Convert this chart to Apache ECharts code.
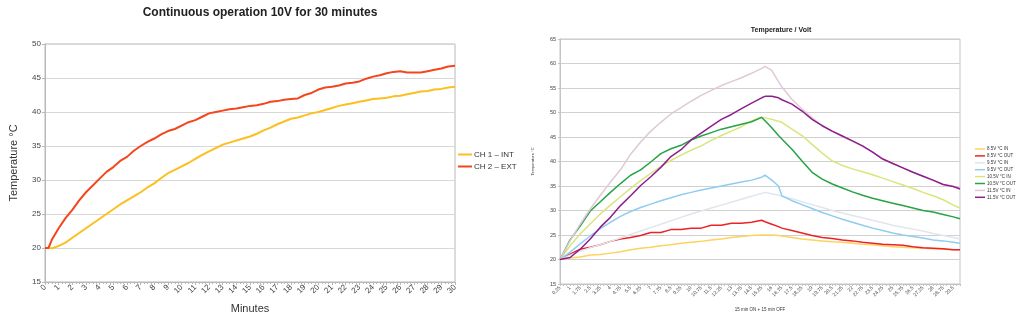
<!DOCTYPE html>
<html><head><meta charset="utf-8">
<script src="https://cdn.jsdelivr.net/npm/echarts@6/dist/echarts.min.js"></script>
<style>html,body{margin:0;padding:0;background:#fff}#c{width:1024px;height:321px}</style>
</head><body><div id="c"></div>
<script>
// ---- Left chart data ----
const leftMinutes = [0,0.25,0.5,1,1.5,2,2.5,3,3.5,4,4.5,5,5.5,6,6.5,7,7.5,8,8.5,9,9.5,10,10.5,11,11.5,12,12.5,13,13.5,14,14.5,15,15.5,16,16.5,17,17.5,18,18.5,19,19.5,20,20.5,21,21.5,22,22.5,23,23.5,24,24.5,25,25.5,26,26.5,27,27.5,28,28.5,29,29.5,30];
const ch1Int = [20,20,19.95,20.3,20.8,21.5,22.2,22.9,23.6,24.3,25.0,25.7,26.4,27.0,27.6,28.2,28.9,29.5,30.3,31.0,31.5,32.0,32.5,33.1,33.7,34.2,34.7,35.2,35.5,35.8,36.1,36.4,36.8,37.3,37.7,38.2,38.6,39.0,39.2,39.5,39.8,40.0,40.3,40.6,40.9,41.1,41.3,41.5,41.7,41.9,42.0,42.1,42.3,42.4,42.6,42.8,43.0,43.1,43.3,43.4,43.6,43.7];
const ch2Ext = [20,20.0,21.2,22.9,24.4,25.6,27.0,28.2,29.2,30.2,31.2,31.9,32.8,33.4,34.3,35.0,35.6,36.1,36.7,37.2,37.5,38.0,38.5,38.8,39.3,39.8,40.0,40.2,40.4,40.5,40.7,40.9,41.0,41.2,41.5,41.6,41.8,41.9,42.0,42.5,42.8,43.3,43.6,43.7,43.9,44.2,44.3,44.5,44.9,45.2,45.4,45.7,45.9,46.0,45.8,45.8,45.8,46.0,46.2,46.4,46.7,46.8];
const leftNames = ['CH 1 – INT','CH 2 – EXT'];

// ---- Right chart data ----
const rightMinutes = [0.25,1,1.75,2.5,3.25,4,4.75,5.5,6.25,7,7.75,8.5,9.25,10,10.75,11.5,12.25,13,13.75,14.5,15.25,15.5,16,16.5,16.75,17.5,18.25,19,19.75,20.5,21.25,22,22.75,23.5,24.25,25,25.75,26.5,27.25,28,28.75,29.5,30];
const v85In  = [20,20.3,20.5,20.9,21.0,21.3,21.6,22.0,22.3,22.5,22.8,23.0,23.3,23.5,23.7,24.0,24.2,24.5,24.7,24.9,25.0,25.0,25.0,24.9,24.8,24.5,24.2,24.0,23.8,23.6,23.5,23.3,23.1,23.0,22.8,22.6,22.5,22.4,22.3,22.2,22.1,22.0,22.0];
const v85Out = [20,21.1,22.1,22.5,23.0,23.7,24.2,24.5,24.9,25.5,25.5,26.1,26.1,26.4,26.4,27.0,27.0,27.4,27.4,27.6,28.0,27.7,27.2,26.7,26.4,25.9,25.4,24.9,24.5,24.3,24.0,23.8,23.5,23.3,23.1,23.0,22.9,22.6,22.4,22.3,22.2,22.0,22.0];
const v95In  = [20,20.9,21.7,22.4,23.0,23.7,24.4,25.1,25.8,26.5,27.2,27.9,28.6,29.3,29.9,30.5,31.1,31.7,32.3,32.9,33.5,33.7,33.4,33.1,32.9,32.4,31.8,31.2,30.6,30.0,29.5,29.0,28.5,28.0,27.5,27.0,26.6,26.2,25.8,25.3,24.9,24.5,24.2];
const v95Out = [20,21.5,23.2,24.8,26.3,27.6,28.8,29.8,30.6,31.3,32.0,32.6,33.2,33.7,34.2,34.6,35.0,35.4,35.8,36.2,36.8,37.2,36.2,35.0,33.0,32.0,31.2,30.4,29.6,28.9,28.2,27.6,27.0,26.4,25.9,25.4,25.0,24.7,24.4,24.0,23.8,23.5,23.3];
const v105In = [20,22.8,25.2,27.3,29.3,31.1,32.8,34.5,36.1,37.6,39.0,40.2,41.3,42.3,43.2,44.3,45.3,46.2,47.1,48.3,49.1,48.9,48.6,48.2,48.0,46.6,45.3,43.5,41.7,40.1,39.2,38.5,37.9,37.3,36.6,35.9,35.2,34.5,33.7,33.0,32.2,31.1,30.5];
const v105Out= [20,24.0,26.8,29.9,31.8,33.7,35.5,37.2,38.3,39.9,41.6,42.6,43.3,44.4,45.2,45.9,46.6,47.1,47.6,48.1,49.0,48.3,46.9,45.3,44.6,42.5,40.1,37.8,36.4,35.4,34.6,33.8,33.1,32.5,32.0,31.5,31.0,30.5,30.0,29.7,29.2,28.7,28.3];
const v115In = [20,23.8,27.2,30.3,33.1,35.8,38.3,41.5,44.0,46.2,48.0,49.7,51.0,52.3,53.5,54.5,55.5,56.3,57.1,58.0,59.0,59.4,58.6,56.3,55.2,52.7,50.7,48.9,47.3,46.1,45.1,44.1,43.1,41.9,40.6,39.6,38.7,37.8,37.0,36.1,35.3,34.9,34.6];
const v115Out= [20,20.4,22.1,24.2,26.6,28.6,31.0,33.0,35.1,36.9,38.8,41.0,42.4,44.4,45.8,47.2,48.6,49.6,50.8,51.9,53.0,53.3,53.3,53.0,52.6,51.7,50.3,48.6,47.3,46.2,45.2,44.2,43.2,41.9,40.5,39.6,38.7,37.8,37.0,36.2,35.3,34.9,34.4];
const rightNames = ['8.5V °C IN','8.5V °C OUT','9.5V °C IN','9.5V °C OUT','10.5V °C IN','10.5V °C OUT','11.5V °C IN','11.5V °C OUT'];
const rightValues = [v85In, v85Out, v95In, v95Out, v105In, v105Out, v115In, v115Out];
const rightColors = ['#fbd35e','#ec2227','#dfe6ee','#8fcdf0','#d9e57a','#27a345','#dfc9d5','#8c1f8d'];

const pair = (xs, ys) => xs.map((x, i) => [x, ys[i]]);
const FONT = 'Liberation Sans';

const chart = echarts.init(document.getElementById('c'), null, {renderer: 'canvas'});
const series = [
  {name: leftNames[0], type: 'line', xAxisIndex: 0, yAxisIndex: 0, data: pair(leftMinutes, ch1Int), symbol: 'none', lineStyle: {width: 2, color: '#fcbf1e'}, itemStyle: {color: '#fcbf1e'}},
  {name: leftNames[1], type: 'line', xAxisIndex: 0, yAxisIndex: 0, data: pair(leftMinutes, ch2Ext), symbol: 'none', lineStyle: {width: 2, color: '#f4461c'}, itemStyle: {color: '#f4461c'}}
];
rightNames.forEach((n, i) => series.push({
  name: n, type: 'line', xAxisIndex: 1, yAxisIndex: 1, data: pair(rightMinutes, rightValues[i]),
  symbol: 'none', lineStyle: {width: 1.5, color: rightColors[i]}, itemStyle: {color: rightColors[i]}
}));

chart.setOption({
  animation: false,
  backgroundColor: '#fff',
  textStyle: {fontFamily: FONT},
  title: [
    {text: 'Continuous operation 10V for 30 minutes', left: 260, top: 7, padding: 0, textAlign: 'center',
     textStyle: {fontFamily: FONT, fontWeight: 'bold', fontSize: 12, color: '#222'}},
    {text: 'Temperature / Volt', left: 781, top: 27, padding: 0, textAlign: 'center',
     textStyle: {fontFamily: FONT, fontWeight: 'bold', fontSize: 7, color: '#222'}}
  ],
  legend: [
    {data: leftNames, orient: 'vertical', left: 458, top: 150, padding: 0, icon: 'rect', itemWidth: 14, itemHeight: 2, itemGap: 3,
     textStyle: {fontFamily: FONT, fontSize: 8, lineHeight: 9, color: '#333', padding: [0,0,0,-3]}},
    {data: rightNames, orient: 'vertical', left: 975, top: 146.5, padding: 0, icon: 'rect', itemWidth: 10, itemHeight: 1.5, itemGap: 1.9,
     textStyle: {fontFamily: FONT, fontSize: 4.5, lineHeight: 5, color: '#333', padding: [0,0,0,-3]}}
  ],
  grid: [
    {left: 45, top: 44, width: 410, height: 238, show: true, borderColor: '#b8b8b8', borderWidth: 1, containLabel: false},
    {left: 560, top: 39, width: 400, height: 245, show: true, borderColor: '#c4c4c4', borderWidth: 1, containLabel: false}
  ],
  xAxis: [
    {type: 'value', gridIndex: 0, min: 0, max: 30, interval: 1,
     axisLine: {lineStyle: {color: '#b8b8b8'}}, axisTick: {length: 3, lineStyle: {color: '#b8b8b8'}},
     minorTick: {show: true, splitNumber: 4, length: 2, lineStyle: {color: '#b8b8b8'}},
     splitLine: {show: false},
     axisLabel: {rotate: 45, fontSize: 8, color: '#444', margin: 4, fontFamily: FONT},
     name: 'Minutes', nameLocation: 'middle', nameGap: 21, nameTextStyle: {fontSize: 11, color: '#333', fontFamily: FONT}},
    {type: 'value', gridIndex: 1, min: 0.25, max: 30, interval: 0.25,
     axisLine: {lineStyle: {color: '#c4c4c4'}}, axisTick: {length: 2, lineStyle: {color: '#c4c4c4'}},
     splitLine: {show: false},
     axisLabel: {rotate: 45, fontSize: 5, color: '#444', margin: 3, fontFamily: FONT,
       formatter: v => { const r = (v - 0.25) / 0.75; return Math.abs(r - Math.round(r)) < 1e-6 ? String(+v.toFixed(2)) : ''; }},
     name: '15 min ON + 15 min OFF', nameLocation: 'middle', nameGap: 23, nameTextStyle: {fontSize: 4.5, color: '#333', fontFamily: FONT}}
  ],
  yAxis: [
    {type: 'value', gridIndex: 0, min: 15, max: 50, interval: 5,
     axisLine: {show: true, lineStyle: {color: '#b8b8b8'}}, axisTick: {show: true, length: 3, lineStyle: {color: '#b8b8b8'}},
     splitLine: {lineStyle: {color: '#d8d8d8'}},
     axisLabel: {fontSize: 8, color: '#444', margin: 4, fontFamily: FONT},
     name: 'Temperature °C', nameLocation: 'middle', nameGap: 26, nameTextStyle: {fontSize: 11, color: '#333', fontFamily: FONT}},
    {type: 'value', gridIndex: 1, min: 15, max: 65, interval: 5,
     axisLine: {show: true, lineStyle: {color: '#c4c4c4'}}, axisTick: {show: true, length: 2, lineStyle: {color: '#c4c4c4'}},
     splitLine: {lineStyle: {color: '#d0d0d0'}},
     axisLabel: {fontSize: 5.5, color: '#444', margin: 4, fontFamily: FONT},
     name: 'Temperature °C', nameLocation: 'middle', nameGap: 25, nameTextStyle: {fontSize: 4, color: '#333', fontFamily: FONT}}
  ],
  series: series
});
</script></body></html>
